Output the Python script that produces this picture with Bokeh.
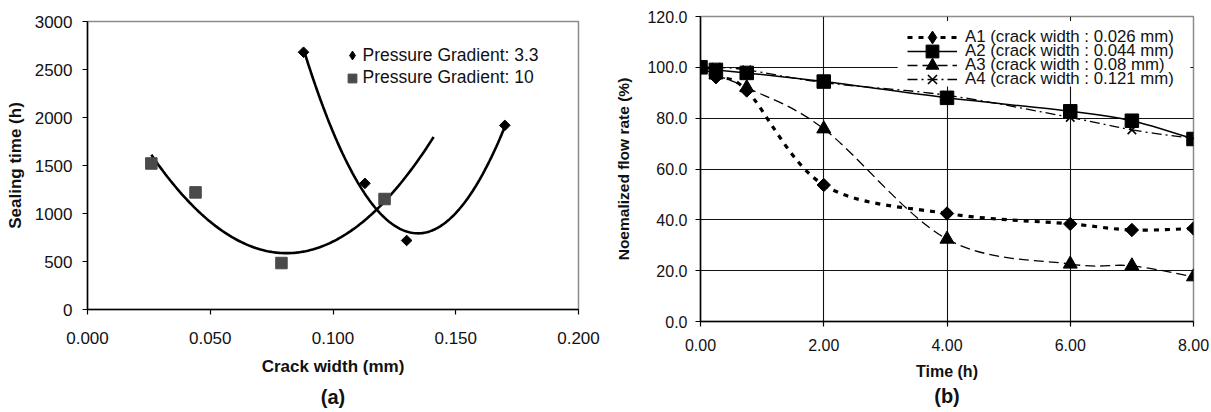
import numpy as np
from bokeh.plotting import figure
from bokeh.layouts import row
from bokeh.models import (FixedTicker, NumeralTickFormatter, Legend, LegendItem,
                          Title, ColumnDataSource, BoxAnnotation, LinearAxis)
from bokeh.embed import file_html
from bokeh.resources import INLINE

FONT = "Liberation Sans"

# ---------------- data: panel (a) ----------------
pg33_width = [0.088, 0.113, 0.130, 0.170]
pg33_time = [2680, 1314, 719, 1918]
pg10_width = [0.026, 0.044, 0.079, 0.121]
pg10_time = [1521, 1220, 484, 1151]
a_xticks = [0.0, 0.05, 0.10, 0.15, 0.20]
a_yticks = [0, 500, 1000, 1500, 2000, 2500, 3000]
labels_a = ["Pressure Gradient: 3.3", "Pressure Gradient: 10"]

# ---------------- data: panel (b) ----------------
time_h = [0, 0.25, 0.75, 2, 4, 6, 7, 8]
a1_flow = [100, 96.1, 90.9, 53.7, 42.5, 38.4, 36.0, 36.6]
a2_flow = [100, 99.0, 97.8, 94.4, 88.0, 82.7, 79.0, 71.8]
a3_flow = [100, 97.0, 92.0, 75.8, 32.4, 22.6, 21.9, 17.6]
a4_flow = [100, 100, 99.0, 94.0, 89.0, 80.3, 75.4, 72.0]
b_xticks = [0, 2, 4, 6, 8]
b_yticks = [0, 20, 40, 60, 80, 100, 120]
b_xgrid = [2, 4, 6]
b_ygrid = [20, 40, 60, 80, 100]
labels_b = ["A1 (crack width : 0.026 mm)", "A2 (crack width : 0.044 mm)",
            "A3 (crack width : 0.08 mm)", "A4 (crack width : 0.121 mm)"]

NAN = np.array([np.nan])


def style_axes(p, fs_tick, fs_lab, xstand, ystand):
    for ax in (p.xaxis[0], p.yaxis[0]):
        ax.axis_line_color = "black"
        ax.axis_line_width = 1.5
        ax.major_tick_line_color = "black"
        ax.major_tick_line_width = 1.2
        ax.major_tick_in = 0
        ax.major_tick_out = 5
        ax.minor_tick_line_color = None
        ax.major_label_text_font = FONT
        ax.major_label_text_font_size = fs_tick
        ax.major_label_text_color = "#111111"
        ax.axis_label_text_font = FONT
        ax.axis_label_text_font_style = "bold"
        ax.axis_label_text_color = "#111111"
        ax.axis_label_text_font_size = fs_lab
    p.xaxis[0].major_label_standoff = xstand
    p.yaxis[0].major_label_standoff = ystand
    p.outline_line_color = "#8c8c8c"
    p.outline_line_width = 1.5


def row_legend(p, label, renderers, loc, gw, gh, standoff, fs):
    lg = Legend(items=[LegendItem(label=label, renderers=renderers)],
                location=loc, glyph_width=gw, glyph_height=gh,
                label_height=gh, spacing=0, padding=0, margin=0,
                label_standoff=standoff, label_text_font=FONT,
                label_text_font_size=fs, label_text_color="#111111",
                border_line_alpha=0, background_fill_alpha=0)
    p.add_layout(lg)


# ================= panel (a) =================
p1 = figure(width=600, height=412, x_range=(0, 0.2), y_range=(0, 3000),
            output_backend="svg", toolbar_location=None,
            min_border_left=87, min_border_right=22, min_border_top=21,
            min_border_bottom=102)
p1.frame_align = False
p1.xgrid.visible = False
p1.ygrid.visible = False
p1.background_fill_color = "white"
p1.border_fill_color = "white"
p1.xaxis[0].ticker = FixedTicker(ticks=a_xticks)
p1.yaxis[0].ticker = FixedTicker(ticks=a_yticks)
p1.xaxis[0].formatter = NumeralTickFormatter(format="0.000")
p1.yaxis[0].formatter = NumeralTickFormatter(format="0")
p1.xaxis[0].axis_label = "Crack width (mm)"
p1.yaxis[0].axis_label = "Sealing time (h)"
style_axes(p1, "17px", "17px", 17, 10)
p1.xaxis[0].axis_label_standoff = 10
p1.yaxis[0].axis_label_standoff = 7

# polynomial (order 2) trendlines fitted to the measured points
c33 = np.polyfit(pg33_width, pg33_time, 2)
c10 = np.polyfit(pg10_width, pg10_time, 2)
xs33 = np.linspace(min(pg33_width), max(pg33_width), 120)
xs10 = np.linspace(min(pg10_width), max(pg10_width) + 0.02, 120)
p1.line(xs33, np.polyval(c33, xs33), line_color="black", line_width=2.6)
p1.line(xs10, np.polyval(c10, xs10), line_color="black", line_width=2.6)

p1.scatter(pg33_width, pg33_time, marker="square", angle=np.pi / 4,
           size=7.5, fill_color="black", line_color="black")
p1.scatter(pg10_width, pg10_time, marker="square", size=11.5,
           fill_color="#4a4a4a", line_color="#4a4a4a")
# legend-only glyphs (no visible data)
l33 = p1.scatter(NAN, NAN, marker="diamond", fill_color="black",
                 line_color="black")
l10 = p1.scatter(NAN, NAN, marker="square", fill_color="#4a4a4a",
                 line_color="#4a4a4a")

a_rows = [51.7, 74.0]
for lab, rr, yc in zip(labels_a, [l33, l10], a_rows):
    row_legend(p1, lab, [rr], (253.5, 310 - (yc + 13) - 4.5), 22, 26, 0,
               "17.5px")

p1.add_layout(Title(text="(a)", align="center", text_font=FONT,
                    text_font_size="20px", text_font_style="bold",
                    text_color="#111111"), "below")


# ================= panel (b) =================
p2 = figure(width=611, height=412, x_range=(0, 8), y_range=(0, 120),
            output_backend="svg", toolbar_location=None,
            min_border_left=100, min_border_right=18, min_border_top=16,
            min_border_bottom=91)
p2.frame_align = False
p2.background_fill_color = "white"
p2.border_fill_color = "white"
p2.xaxis[0].ticker = FixedTicker(ticks=b_xticks)
p2.yaxis[0].ticker = FixedTicker(ticks=b_yticks)
p2.xgrid[0].ticker = FixedTicker(ticks=b_xgrid)
p2.ygrid[0].ticker = FixedTicker(ticks=b_ygrid)
for g in (p2.xgrid[0], p2.ygrid[0]):
    g.grid_line_color = "#111111"
    g.grid_line_width = 1.1
p2.xaxis[0].formatter = NumeralTickFormatter(format="0.00")
p2.yaxis[0].formatter = NumeralTickFormatter(format="0.0")
p2.xaxis[0].axis_label = "Time (h)"
p2.yaxis[0].axis_label = "Noemalized flow rate (%)"
style_axes(p2, "16px", "15.5px", 12, 8)
p2.xaxis[0].axis_label_text_font_size = "16px"
p2.xaxis[0].axis_label_standoff = 9
p2.yaxis[0].axis_label_standoff = 12

# caption "(b)" as the label of a bare extra axis below the main one
cap_axis = LinearAxis(ticker=FixedTicker(ticks=[]), axis_label="(b)",
                      axis_line_alpha=0, major_tick_out=0, major_tick_in=0,
                      minor_tick_out=0, minor_tick_in=0,
                      major_label_standoff=0, axis_label_standoff=2,
                      axis_label_text_font=FONT,
                      axis_label_text_font_size="20px",
                      axis_label_text_font_style="bold",
                      axis_label_text_color="#111111")
p2.add_layout(cap_axis, "below")


def smooth_source(xs, ys):
    """Excel-like smoothed connection: cubic Bezier per segment (Catmull-Rom)."""
    x = np.asarray(xs, float)
    y = np.asarray(ys, float)
    n = len(x)
    d = dict(x0=[], y0=[], x1=[], y1=[], cx0=[], cy0=[], cx1=[], cy1=[])
    for i in range(n - 1):
        i0 = max(i - 1, 0)
        i3 = min(i + 2, n - 1)
        d["x0"].append(x[i]); d["y0"].append(y[i])
        d["x1"].append(x[i + 1]); d["y1"].append(y[i + 1])
        d["cx0"].append(x[i] + (x[i + 1] - x[i0]) / 6)
        d["cy0"].append(y[i] + (y[i + 1] - y[i0]) / 6)
        d["cx1"].append(x[i + 1] - (x[i3] - x[i]) / 6)
        d["cy1"].append(y[i + 1] - (y[i3] - y[i]) / 6)
    return ColumnDataSource(d)


series = [
    (a1_flow, dict(line_width=3.2, line_dash="5 6"),
     dict(marker="square", angle=np.pi / 4, size=9.5), "diamond"),
    (a2_flow, dict(line_width=1.5, line_dash="solid"),
     dict(marker="square", size=13.5), "square"),
    (a3_flow, dict(line_width=1.3, line_dash="10 5"),
     dict(marker="triangle", size=14), "triangle"),
    (a4_flow, dict(line_width=1.3, line_dash="10 4 2 4"),
     dict(marker="x", size=12, line_width=1.6), "x"),
]
legend_refs = []
for vals, lstyle, mstyle, lmark in series:
    p2.bezier(x0="x0", y0="y0", x1="x1", y1="y1", cx0="cx0", cy0="cy0",
              cx1="cx1", cy1="cy1", source=smooth_source(time_h, vals),
              line_color="black", **lstyle)
    ms = dict(mstyle)
    lw = ms.pop("line_width", 1)
    p2.scatter(time_h, vals, fill_color="black", line_color="black",
               line_width=lw, **ms)
    # legend-only glyphs (no visible data)
    lr = p2.line(NAN, NAN, line_color="black", **lstyle)
    lm = p2.scatter(NAN, NAN, marker=lmark, fill_color="black",
                    line_color="black", line_width=lw)
    legend_refs.append([lr, lm])

# white panel behind the legend (hides grid lines there)
p2.add_layout(BoxAnnotation(left=3.2, right=7.95, bottom=92.5, top=118.2,
                            fill_color="white", fill_alpha=1,
                            line_alpha=0))
b_rows = [35.0, 49.3, 63.6, 77.9]
for lab, refs, yc in zip(labels_b, legend_refs, b_rows):
    row_legend(p2, lab, refs, (207, 321 - (yc + 16) - 1.5), 50, 32, 8,
               "16.8px")

layout = row(p1, p2)
open("out.html", "w").write(file_html(layout, INLINE))
